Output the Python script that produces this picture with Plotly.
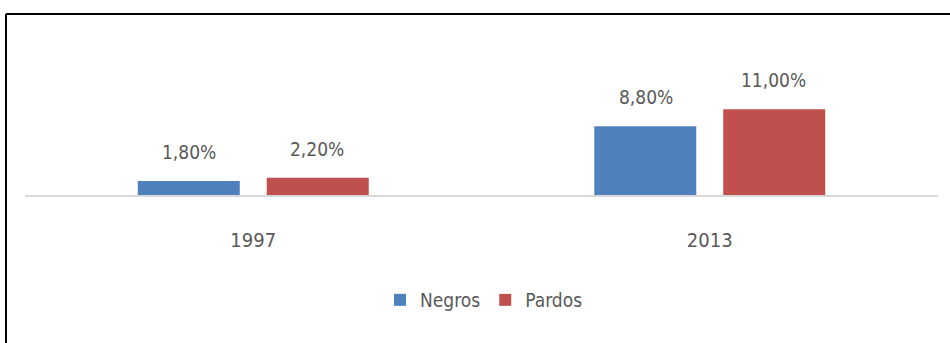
import plotly.graph_objects as go

# Share of people (%) by year and group
years = ["1997", "2013"]
negros = [1.80, 8.80]
pardos = [2.20, 11.00]
series_names = ["Negros", "Pardos"]
colors = ["#4F81BD", "#C0504D"]

W, H = 950, 343
ML, MR, MT, MB = 25, 12, 14, 148
plot_w = W - ML - MR
plot_h = H - MT - MB

font_family = "Liberation Sans Narrow, DejaVu Sans Condensed, Arial Narrow, sans-serif"
text_color = "#595959"


def pct(v):
    return f"{v:.2f}".replace(".", ",") + "%"


fig = go.Figure()
for name, vals, col in zip(series_names, [negros, pardos], colors):
    fig.add_trace(go.Bar(
        name=name, x=years, y=vals, marker_color=col,
        marker_line_width=0,
    ))

# value labels above each bar (category index used for x position)
for i, (name, vals) in enumerate(zip(series_names, [negros, pardos])):
    for j, v in enumerate(vals):
        fig.add_annotation(
            x=j, y=v, text=pct(v), showarrow=False,
            xref="x", yref="y", yanchor="bottom",
            xshift=(-64 if i == 0 else 64), yshift=16,
            font=dict(family=font_family, size=19, color=text_color),
        )

# frame lines (top and left)
x_left = (6 - ML) / plot_w
fig.add_shape(type="line", xref="paper", yref="paper",
              x0=x_left, x1=(W - ML) / plot_w, y0=1, y1=1,
              line=dict(color="#000000", width=2))
fig.add_shape(type="line", xref="paper", yref="paper",
              x0=x_left, x1=x_left, y0=1, y1=-(MB) / plot_h,
              line=dict(color="#000000", width=2))

fig.update_layout(
    width=W, height=H,
    margin=dict(l=ML, r=MR, t=MT, b=MB, autoexpand=False),
    paper_bgcolor="white", plot_bgcolor="white",
    barmode="group", bargap=0.435, bargroupgap=0.209,
    showlegend=True,
    legend=dict(
        orientation="h", x=(484 - ML) / plot_w, xanchor="center",
        y=-(300 - (H - MB)) / plot_h, yanchor="middle",
        font=dict(family=font_family, size=19, color=text_color),
        traceorder="normal",
    ),
    font=dict(family=font_family, color=text_color),
)
fig.update_xaxes(
    type="category", range=[-0.5, 1.5],
    showline=True, linecolor="#D9D9D9", linewidth=1.5,
    ticks="outside", ticklen=26, tickcolor="rgba(0,0,0,0)",
    showgrid=False,
    tickfont=dict(family=font_family, size=20, color=text_color),
)
fig.update_yaxes(range=[0, plot_h / 7.8], visible=False, showgrid=False)

fig.write_html("out.html")
